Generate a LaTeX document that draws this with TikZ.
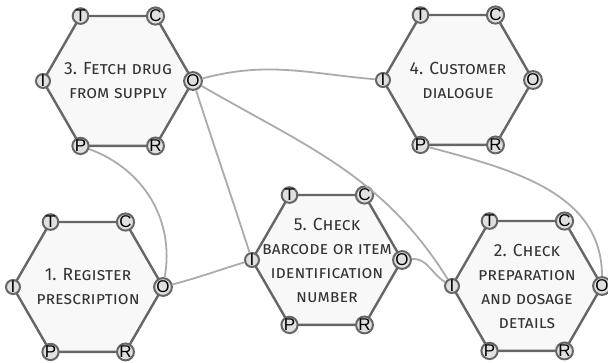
\documentclass[tikz,border=0pt]{standalone}
\usepackage{fontspec}
\newfontfamily\fnfont{Fira Sans}
\newfontfamily\aspfont{Liberation Sans}
\definecolor{hexline}{HTML}{666666}
\definecolor{hexfill}{HTML}{F8F8F8}
\definecolor{aspfill}{HTML}{E0E0E0}
\definecolor{linkcol}{HTML}{ABABAB}
\definecolor{fncol}{HTML}{333333}

\begin{document}
\begin{tikzpicture}[x=1pt,y=1pt,
    function/.style={fill=hexfill,draw=hexline,line width=2.4pt,line join=round},
    fnlabel/.style={align=center,text=fncol,
                    font=\fnfont\scshape\fontsize{17.5}{24}\selectfont},
    aspect/.style={circle,draw=hexline,fill=aspfill,line width=2pt,
                   minimum size=14pt,inner sep=0pt,
                   font=\aspfont\fontsize{17}{17}\selectfont},
    link/.style={draw=linkcol,line width=1.8pt}]
  \useasboundingbox (0,0) rectangle (608,363);

  % functions with their six aspects
  \foreach \f/\x/\y/\txt in {
      F1/88/76/{1. Register\\prescription},
      F2/527/77/{2. Check\\preparation\\and dosage\\details},
      F3/118/282/{3. Fetch drug\\from supply},
      F4/458/283/{4. Customer\\dialogue},
      F5/327/103/{5. Check\\barcode or item\\identification\\number}}
  {
    \coordinate (\f) at (\x,\y);
    \draw[function] (\f) ++(0:75) -- ++(120:75) -- ++(180:75) -- ++(240:75)
                    -- ++(300:75) -- ++(0:75) -- cycle;
    \node[fnlabel] (\f text) at (\f) {\txt};
    \foreach \a/\ang in {T/120,C/60,O/0,R/300,P/240,I/180}
      \node[aspect] (\f\a) at ([shift={(\ang:75)}]\f) {\a};
  }

  % couplings
  \path[link]
    (F3P) edge[out=-20,in=80]   (F1O)
    (F3O) edge[out=15,in=175]   (F4I)
          edge[out=-72,in=108]  (F5I)
          edge[out=-30,in=122]  (F2I)
    (F1O) edge[out=15,in=197]   (F5I)
    (F5O) edge[out=5,in=150]    (F2I)
    (F4P) edge[out=-15,in=90]   (F2O);
\end{tikzpicture}
\end{document}
